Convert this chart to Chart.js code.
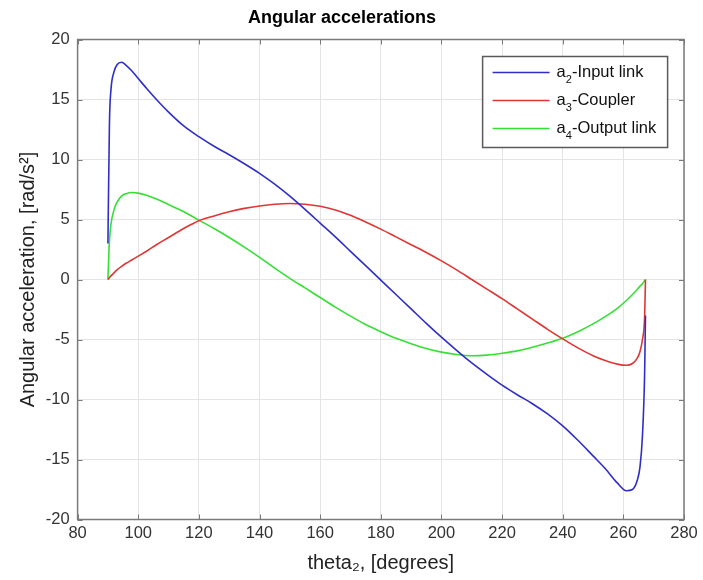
<!DOCTYPE html>
<html>
<head>
<meta charset="utf-8">
<script src="https://cdn.jsdelivr.net/npm/chart.js@4"></script>
<style>
  html, body { margin: 0; padding: 0; background: #fff; }
  #wrap { width: 703px; height: 580px; }
</style>
</head>
<body>
<div id="wrap"><canvas id="acc"></canvas></div>
<script>
// theta2 sample points, degrees
const theta = [90, 90.5, 91, 92, 93, 94.5, 96, 98, 100, 103, 106, 110, 115, 120, 125, 130, 135, 140, 145, 150,
  155, 160, 165, 170, 175, 180, 185, 190, 195, 200, 205, 210, 215, 220, 225, 230, 235, 240, 245, 250,
  254, 258, 261, 263, 264.5, 265.5, 266.3, 267, 267.3];

// a2 - input link
const a2 = [3, 13, 15.8, 17.3, 17.9, 18.1, 17.85, 17.35, 16.75, 15.85, 15.0, 13.95, 12.8, 11.9, 11.1, 10.4, 9.65, 8.85, 7.95, 6.95,
  5.85, 4.7, 3.55, 2.35, 1.15, -0.05, -1.25, -2.45, -3.65, -4.8, -5.9, -6.95, -7.9, -8.8, -9.6, -10.35, -11.2, -12.2, -13.4, -14.7,
  -15.75, -16.95, -17.6, -17.5, -16.8, -15.6, -13, -8, -3];

// a3 - coupler
const a3 = [0, 0.15, 0.3, 0.55, 0.8, 1.1, 1.35, 1.65, 1.95, 2.4, 2.9, 3.5, 4.25, 4.9, 5.3, 5.65, 5.93, 6.13, 6.27, 6.33,
  6.27, 6.1, 5.8, 5.35, 4.8, 4.2, 3.55, 2.9, 2.25, 1.55, 0.8, 0.0, -0.8, -1.6, -2.45, -3.3, -4.15, -4.95, -5.7, -6.35,
  -6.75, -7.05, -7.15, -7.0, -6.6, -6.0, -5.0, -3.2, 0];

// a4 - output link
const a4 = [0, 3.2, 4.6, 5.8, 6.45, 6.95, 7.15, 7.25, 7.2, 7.0, 6.7, 6.25, 5.65, 4.95, 4.25, 3.5, 2.7, 1.85, 0.95, 0.1,
  -0.7, -1.5, -2.3, -3.05, -3.75, -4.35, -4.9, -5.35, -5.75, -6.05, -6.25, -6.35, -6.3, -6.15, -5.95, -5.65, -5.3, -4.9, -4.35, -3.7,
  -3.1, -2.4, -1.75, -1.25, -0.85, -0.55, -0.35, -0.1, 0];

const seriesLabels = [['a', '2', '-Input link'], ['a', '3', '-Coupler'], ['a', '4', '-Output link']];
const seriesColors = ['#2f2fc8', '#e03535', '#35e035'];
const xTicks = { min: 80, max: 280, step: 20 };
const yTicks = { min: -20, max: 20, step: 5 };

const FONT = '"Liberation Sans", Arial, Helvetica, sans-serif';

function pts(ys) { return theta.map((t, i) => ({ x: t, y: ys[i] })); }

// frame + inward ticks + legend box, matlab style
const framePlugin = {
  id: 'frame',
  afterDatasetsDraw(chart) {
    const { ctx, chartArea: a, scales: { x, y } } = chart;
    ctx.save();
    ctx.strokeStyle = '#7a7a7a';
    ctx.lineWidth = 1;
    ctx.beginPath();
    for (let v = xTicks.min; v <= xTicks.max; v += xTicks.step) {
      const px = Math.round(x.getPixelForValue(v)) + 0.5;
      ctx.moveTo(px, a.bottom); ctx.lineTo(px, a.bottom - 5);
      ctx.moveTo(px, a.top); ctx.lineTo(px, a.top + 5);
    }
    for (let v = yTicks.min; v <= yTicks.max; v += yTicks.step) {
      const py = Math.round(y.getPixelForValue(v)) + 0.5;
      ctx.moveTo(a.left, py); ctx.lineTo(a.left + 5, py);
      ctx.moveTo(a.right, py); ctx.lineTo(a.right - 5, py);
    }
    ctx.stroke();
    ctx.lineWidth = 1.5;
    ctx.strokeRect(a.left, a.top, a.right - a.left, a.bottom - a.top);

    // legend
    const bx = a.left + 405, by = a.top + 17, bw = 185, bh = 91;
    ctx.fillStyle = '#fff';
    ctx.fillRect(bx, by, bw, bh);
    ctx.strokeStyle = '#5a5a5a';
    ctx.lineWidth = 1.5;
    ctx.strokeRect(bx, by, bw, bh);
    seriesLabels.forEach((parts, i) => {
      const ry = by + 16 + i * 28;
      ctx.strokeStyle = seriesColors[i];
      ctx.lineWidth = 1.5;
      ctx.beginPath();
      ctx.moveTo(bx + 10, ry); ctx.lineTo(bx + 67, ry);
      ctx.stroke();
      ctx.fillStyle = '#111';
      ctx.textBaseline = 'middle';
      let tx = bx + 74;
      ctx.font = '16.5px ' + FONT;
      ctx.fillText(parts[0], tx, ry);
      tx += ctx.measureText(parts[0]).width;
      ctx.font = '11px ' + FONT;
      ctx.fillText(parts[1], tx, ry + 7);
      tx += ctx.measureText(parts[1]).width;
      ctx.font = '16.5px ' + FONT;
      ctx.fillText(parts[2], tx, ry);
    });
    ctx.restore();
  }
};

new Chart(document.getElementById('acc'), {
  type: 'line',
  data: {
    datasets: [
      { label: 'a2-Input link', data: pts(a2), borderColor: seriesColors[0] },
      { label: 'a3-Coupler', data: pts(a3), borderColor: seriesColors[1] },
      { label: 'a4-Output link', data: pts(a4), borderColor: seriesColors[2] }
    ].map(d => Object.assign(d, { borderWidth: 1.6, pointRadius: 0, fill: false, cubicInterpolationMode: 'monotone' }))
  },
  options: {
    responsive: true,
    maintainAspectRatio: false,
    animation: false,
    layout: { padding: { top: 0, right: 19, bottom: 0, left: 0 } },
    plugins: {
      legend: { display: false },
      tooltip: { enabled: false },
      title: {
        display: true,
        text: 'Angular accelerations',
        color: '#000',
        font: { family: FONT, size: 18, weight: 'bold' },
        padding: { top: 7, bottom: 10.9 }
      }
    },
    scales: {
      x: {
        type: 'linear',
        min: xTicks.min, max: xTicks.max,
        afterFit(s) { s.height = 60.5; },
        ticks: { stepSize: xTicks.step, color: '#333', padding: 4, font: { family: FONT, size: 16.5 } },
        grid: { color: '#e4e4e4', drawTicks: false },
        border: { display: false },
        title: { display: true, text: 'theta\u2082, [degrees]', color: '#222', font: { family: FONT, size: 20 }, padding: { top: 0, bottom: 5 } }
      },
      y: {
        type: 'linear',
        min: yTicks.min, max: yTicks.max,
        afterFit(s) { s.width = 77.6; },
        ticks: { stepSize: yTicks.step, color: '#333', padding: 8, font: { family: FONT, size: 16.5 } },
        grid: { color: '#e4e4e4', drawTicks: false },
        border: { display: false },
        title: { display: true, text: 'Angular acceleration, [rad/s\u00b2]', color: '#222', font: { family: FONT, size: 20 }, padding: { top: 16 } }
      }
    }
  },
  plugins: [framePlugin]
});
</script>
</body>
</html>
